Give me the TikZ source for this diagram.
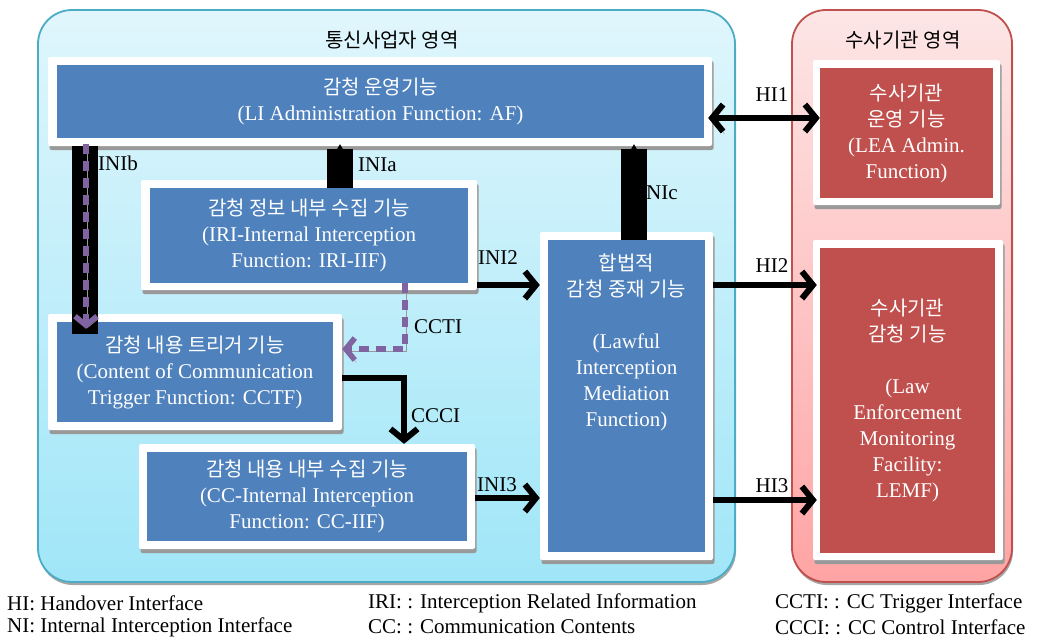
\documentclass[tikz,border=0pt]{standalone}
\usepackage{fontspec}
\setmainfont{Liberation Serif}
\newfontfamily\kr{Noto Sans CJK KR}
\usetikzlibrary{arrows.meta,shadows,calc}
\definecolor{boxblue}{HTML}{4F81BD}
\definecolor{boxred}{HTML}{C0504D}
\definecolor{regblueedge}{HTML}{4BACC6}
\definecolor{regbluetop}{HTML}{E0F6FC}
\definecolor{regbluebot}{HTML}{A0E6F8}
\definecolor{regrededge}{HTML}{C0504D}
\definecolor{regredtop}{HTML}{FDE6E6}
\definecolor{regredbot}{HTML}{FFA4A4}
\definecolor{lipurple}{HTML}{8064A2}
\newcommand{\krt}[1]{{\kr\fontsize{20}{26}\selectfont #1}}
\begin{document}
\begin{tikzpicture}[x=1pt,y=-1pt,
  txt/.style={font=\fontsize{21}{26}\selectfont, inner sep=0pt},
  region/.style={rounded corners=34pt, line width=1.8pt, inner sep=0pt,
     drop shadow={shadow xshift=1pt, shadow yshift=-3pt, fill=black!35, opacity=1}},
  bluereg/.style={region, draw=regblueedge, top color=regbluetop, bottom color=regbluebot},
  redreg/.style={region, draw=regrededge, top color=regredtop, bottom color=regredbot},
  framebox/.style={fill=white, rounded corners=2pt, inner sep=0pt,
     drop shadow={shadow xshift=1.5pt, shadow yshift=-4pt, fill=black!40, opacity=1}},
  bbox/.style={txt, fill=boxblue, text=white, align=center},
  rbox/.style={txt, fill=boxred, text=white, align=center},
  lbl/.style={txt, text=black},
  shd/.style={preaction={draw=black!40, transform canvas={xshift=1.5pt, yshift=-2.5pt}}},
  barb/.style={line width=6pt, shd},
  tipb/.tip={Straight Barb[length=11pt, width=27pt]},
  ptip/.tip={Straight Barb[length=9pt, width=22pt]},
  purp/.style={draw=lipurple, line width=5.5pt, dash pattern=on 10pt off 7pt, shd},
  bar/.style={line width=26pt, draw=black}
]
\useasboundingbox (0,0) rectangle (1038,640);
\fill[white] (0,0) rectangle (1038,640);

% regions
\node[bluereg, minimum width=697pt, minimum height=572pt] (opReg) at (386.5,296) {};
\node[redreg, minimum width=220pt, minimum height=572pt] (leaReg) at (902,296) {};
\node[txt] (opTitle) at (392,40) {\krt{통신사업자 영역}};
\node[txt] (leaTitle) at (903,40) {\krt{수사기관 영역}};

% frames
\node[framebox, minimum width=664pt, minimum height=89pt] (afF) at (380,101.5) {};
\node[framebox, minimum width=336pt, minimum height=110pt] (iriF) at (309,235) {};
\node[framebox, minimum width=294pt, minimum height=116pt] (cctfF) at (195,372) {};
\node[framebox, minimum width=336pt, minimum height=105pt] (ccF) at (307,496.5) {};
\node[framebox, minimum width=173pt, minimum height=328pt] (medF) at (626.5,396) {};
\node[framebox, minimum width=187pt, minimum height=145pt] (leaF) at (906.5,132.5) {};
\node[framebox, minimum width=190pt, minimum height=320pt] (lemfF) at (908,400) {};

% boxes
\node[bbox, minimum width=647pt, minimum height=73pt] (afB) at (380.5,101.5)
  {\krt{감청 운영기능}\\(LI Administration Function: AF)};
\node[bbox, minimum width=318pt, minimum height=95pt] (iriB) at (309,235.5)
  {\krt{감청 정보 내부 수집 기능}\\(IRI-Internal Interception\\Function: IRI-IIF)};
\node[bbox, minimum width=276pt, minimum height=100pt] (cctfB) at (195,372)
  {\krt{감청 내용 트리거 기능}\\(Content of Communication\\Trigger Function: CCTF)};
\node[bbox, minimum width=320pt, minimum height=89pt] (ccB) at (307,496.5)
  {\krt{감청 내용 내부 수집 기능}\\(CC-Internal Interception\\Function: CC-IIF)};
\node[bbox, minimum width=157pt, minimum height=312pt] (medB) at (626.5,396) {};
\node[txt, text=white, align=center, anchor=north] (medT) at (626.5,254)
  {\krt{합법적}\\\krt{감청 중재 기능}\\[26pt](Lawful\\Interception\\Mediation\\Function)};
\node[rbox, minimum width=173pt, minimum height=130pt] (leaB) at (906.5,133)
  {\krt{수사기관}\\\krt{운영 기능}\\(LEA Admin.\\Function)};
\node[rbox, minimum width=175pt, minimum height=305pt] (lemfB) at (907.5,400.5)
  {\krt{수사기관}\\\krt{감청 기능}\\[26pt](Law\\Enforcement\\Monitoring\\Facility:\\LEMF)};

% helper x / y positions
\coordinate (xb) at (85,0);
\coordinate (xa) at (340,0);
\coordinate (xn) at (634,0);
\coordinate (xc) at (405,0);
\coordinate (xd) at (404,0);
\coordinate (yh1) at (0,118);
\coordinate (yh2) at (0,285);
\coordinate (yh3) at (0,500);
\coordinate (yi3) at (0,498);

% INIb
\draw[bar] (afF.south -| xb) -- ($(cctfB.north -| xb)+(0,12)$);
\draw[purp, -ptip] ($(afF.south -| xb)+(1,-2)$) -- ($(cctfB.north -| xb)+(1,7)$);
% INIa
\draw[bar, -{Triangle[width=6pt,length=5pt,line width=0pt]}] (iriB.north -| xa) -- ($(afF.south -| xa)+(0,-2)$);
% NIc
\draw[bar, -{Triangle[width=6pt,length=5pt,line width=0pt]}] (medB.north -| xn) -- ($(afF.south -| xn)+(0,-2)$);

% CCTI
\draw[purp, -ptip] (iriB.south -| xc) |- ([yshift=23pt]cctfF.east);
% CCCI
\draw[barb, -tipb] ([yshift=-6pt]cctfF.east) -| (ccF.north -| xd);

% INI2 / INI3
\draw[barb, -tipb] (iriF.east |- yh2) -- (medF.west |- yh2);
\draw[barb, -tipb] (ccF.east |- yi3) -- (medF.west |- yi3);

% HI
\draw[barb, tipb-tipb] ([xshift=-4pt]afF.east |- yh1) -- (leaB.west |- yh1);
\draw[barb, -tipb] (medF.east |- yh2) -- ([xshift=-3pt]lemfB.west |- yh2);
\draw[barb, -tipb] (medF.east |- yh3) -- ([xshift=-3pt]lemfB.west |- yh3);

% labels
\node[lbl, anchor=west] (lINIb) at (98,163) {INIb};
\node[lbl, anchor=west] (lINIa) at (358,165) {INIa};
\node[lbl, anchor=west] (lNIc) at (646,193) {NIc};
\node[lbl, anchor=west] (lCCTI) at (414,327) {CCTI};
\node[lbl, anchor=west] (lCCCI) at (411,416) {CCCI};
\node[lbl, anchor=west] (lINI2) at (478,258) {INI2};
\node[lbl, anchor=west] (lINI3) at (477,485) {INI3};
\node[lbl] (lHI1) at (772,95) {HI1};
\node[lbl] (lHI2) at (772,266) {HI2};
\node[lbl] (lHI3) at (772,486) {HI3};

% legend
\node[lbl, anchor=west] (lg1) at (7,603) {HI: Handover Interface};
\node[lbl, anchor=west] (lg2) at (7,627) {NI: Internal Interception Interface};
\node[lbl, anchor=west] (lg3) at (368,603) {IRI: : Interception Related Information};
\node[lbl, anchor=west] (lg4) at (368,627) {CC: : Communication Contents};
\node[lbl, anchor=west] (lg5) at (775,603) {CCTI: : CC Trigger Interface};
\node[lbl, anchor=west] (lg6) at (775,627) {CCCI: : CC Control Interface};
\end{tikzpicture}
\end{document}
